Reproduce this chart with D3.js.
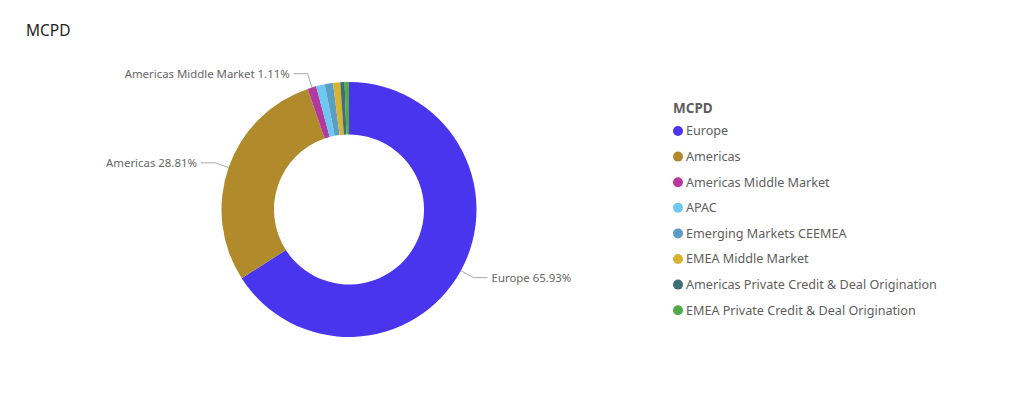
<!DOCTYPE html>
<html>
<head>
<meta charset="utf-8">
<script src="https://cdn.jsdelivr.net/npm/d3@7"></script>
<style>
  html, body { margin: 0; padding: 0; background: #fff; }
  svg { display: block; font-family: "Segoe UI", "Noto Sans", "Open Sans", sans-serif; }
</style>
</head>
<body>
<svg id="chart" width="1024" height="394"></svg>
<script>
const chartTitle = "MCPD";
const categories = [
  "Europe",
  "Americas",
  "Americas Middle Market",
  "APAC",
  "Emerging Markets CEEMEA",
  "EMEA Middle Market",
  "Americas Private Credit & Deal Origination",
  "EMEA Private Credit & Deal Origination"
];
const values = [65.93, 28.81, 1.11, 1.10, 1.05, 0.90, 0.55, 0.55];
const colors = ["#4a35ef", "#b08a2b", "#b4399f", "#6cc7f1", "#5b9dc4", "#d8b32f", "#3e6e78", "#4fac48"];
const labelled = ["Europe", "Americas", "Americas Middle Market"];

const data = categories.map((c, i) => ({ name: c, value: values[i], color: colors[i] }));

const svg = d3.select("#chart");

svg.append("text")
  .attr("x", 26).attr("y", 36)
  .attr("font-size", 15.5)
  .attr("fill", "#252423")
  .text(chartTitle);

const cx = 349, cy = 209.5, rOuter = 127.5, rInner = 75, rElbow = 142, hLen = 14;
const g = svg.append("g").attr("transform", `translate(${cx},${cy})`);

const pie = d3.pie().sort(null).value(d => d.value);
const arc = d3.arc().innerRadius(rInner).outerRadius(rOuter);
const arcs = pie(data);

g.selectAll("path.slice").data(arcs).enter().append("path")
  .attr("class", "slice")
  .attr("d", arc)
  .attr("fill", d => d.data.color);

const fmt = d3.format(".2f");
const lab = arcs.filter(d => labelled.includes(d.data.name));
lab.forEach(d => {
  const a = (d.startAngle + d.endAngle) / 2;
  const sx = Math.sin(a), sy = -Math.cos(a);
  const p0 = [sx * rOuter, sy * rOuter];
  const p1 = [sx * rElbow, sy * rElbow];
  const right = sx >= 0;
  const p2 = [p1[0] + (right ? hLen : -hLen), p1[1]];
  g.append("polyline")
    .attr("points", [p0, p1, p2].map(p => p.join(",")).join(" "))
    .attr("fill", "none")
    .attr("stroke", "#a8a8a8")
    .attr("stroke-width", 1);
  g.append("text")
    .attr("x", p2[0] + (right ? 4 : -4))
    .attr("y", p2[1])
    .attr("dy", "0.35em")
    .attr("text-anchor", right ? "start" : "end")
    .attr("font-size", 11.4)
    .attr("fill", "#666666")
    .text(`${d.data.name} ${fmt(d.data.value)}%`);
});

// Legend
const lx = 673, ly = 108, step = 25.6;
svg.append("text")
  .attr("x", lx).attr("y", ly).attr("dy", "0.35em")
  .attr("font-size", 13.5)
  .attr("font-weight", "bold")
  .attr("fill", "#605e5c")
  .text(chartTitle);

const items = svg.selectAll("g.leg").data(data).enter().append("g")
  .attr("class", "leg")
  .attr("transform", (d, i) => `translate(${lx}, ${ly + 23 + i * step})`);
items.append("circle").attr("cx", 5).attr("cy", 0).attr("r", 5).attr("fill", d => d.color);
items.append("text")
  .attr("x", 13).attr("y", 0).attr("dy", "0.35em")
  .attr("font-size", 12.6)
  .attr("fill", "#605e5c")
  .text(d => d.name);
</script>
</body>
</html>
